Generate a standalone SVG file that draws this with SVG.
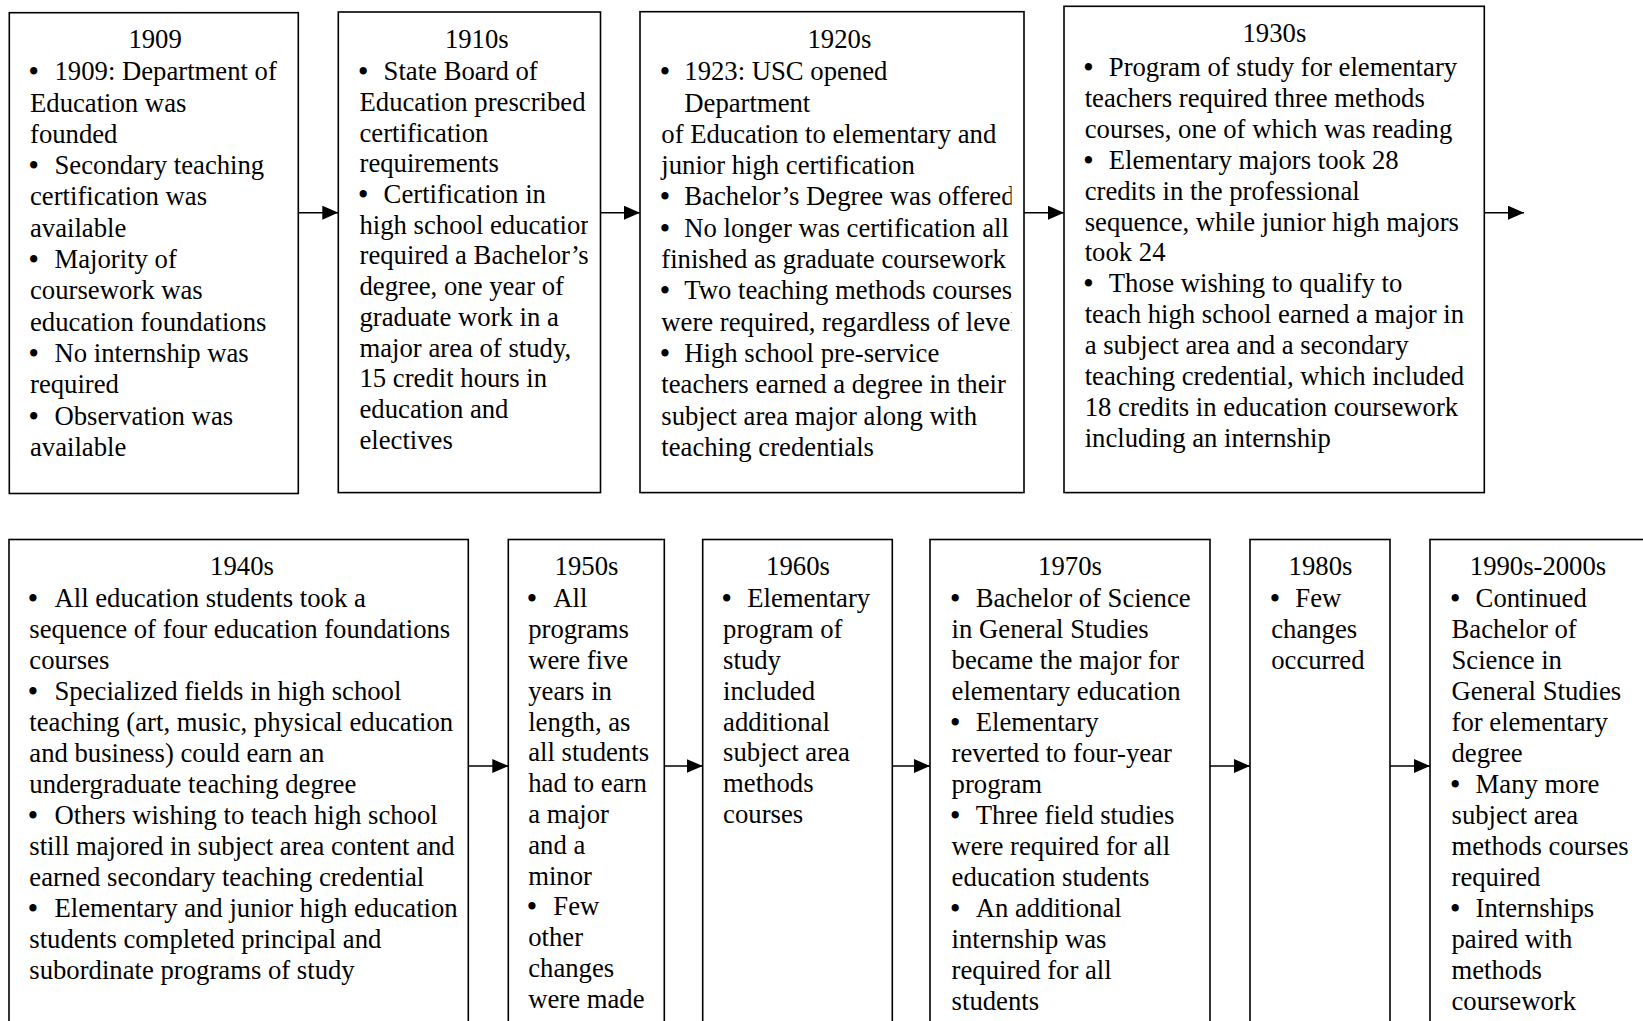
<svg xmlns="http://www.w3.org/2000/svg" width="1643" height="1021" viewBox="0 0 1643 1021">
<style>
.box{fill:#fff;stroke:#000;stroke-width:1.6}
.t{font-family:"Liberation Serif","Times New Roman",serif;font-size:26.7px;fill:#000}
.b{font-weight:bold}
.ttl{text-anchor:middle}
.conn line{stroke:#000;stroke-width:1.6;marker-end:url(#ah)}
</style>
<defs>
<marker id="ah" markerUnits="userSpaceOnUse" markerWidth="16" markerHeight="14" refX="16" refY="7" orient="auto">
<path d="M0,0 L16,7 L0,14 z" fill="#000"/>
</marker>
<clipPath id="c2"><rect x="338" y="0" width="250" height="500"/></clipPath>
<clipPath id="c3"><rect x="640" y="0" width="371.5" height="500"/></clipPath>
</defs>
<rect width="1643" height="1021" fill="#fff"/>

<g id="n1909">
<rect class="box" x="9.3" y="12.7" width="289" height="480.8"/>
<text class="t ttl" x="155.1" y="48.2">1909</text>
<text class="t">
<tspan class="b" x="29" y="80.2">•</tspan><tspan x="54.5" y="80.2">1909: Department of</tspan>
<tspan x="30" y="111.5">Education was</tspan>
<tspan x="30" y="142.8">founded</tspan>
<tspan class="b" x="29" y="174.1">•</tspan><tspan x="54.5" y="174.1">Secondary teaching</tspan>
<tspan x="30" y="205.4">certification was</tspan>
<tspan x="30" y="236.7">available</tspan>
<tspan class="b" x="29" y="268">•</tspan><tspan x="54.5" y="268">Majority of</tspan>
<tspan x="30" y="299.3">coursework was</tspan>
<tspan x="30" y="330.6">education foundations</tspan>
<tspan class="b" x="29" y="361.9">•</tspan><tspan x="54.5" y="361.9">No internship was</tspan>
<tspan x="30" y="393.2">required</tspan>
<tspan class="b" x="29" y="424.5">•</tspan><tspan x="54.5" y="424.5">Observation was</tspan>
<tspan x="30" y="455.8">available</tspan>
</text>
</g>

<g id="n1910s">
<rect class="box" x="338.3" y="12" width="262.2" height="480.6"/>
<text class="t ttl" x="476.8" y="48.2">1910s</text>
<text class="t" clip-path="url(#c2)">
<tspan class="b" x="358.5" y="80.2">•</tspan><tspan x="383.6" y="80.2">State Board of</tspan>
<tspan x="359.5" y="110.9">Education prescribed</tspan>
<tspan x="359.5" y="141.6">certification</tspan>
<tspan x="359.5" y="172.3">requirements</tspan>
<tspan class="b" x="358.5" y="203">•</tspan><tspan x="383.6" y="203">Certification in</tspan>
<tspan x="359.5" y="233.7">high school education</tspan>
<tspan x="359.5" y="264.4">required a Bachelor’s</tspan>
<tspan x="359.5" y="295.1">degree, one year of</tspan>
<tspan x="359.5" y="325.8">graduate work in a</tspan>
<tspan x="359.5" y="356.5">major area of study,</tspan>
<tspan x="359.5" y="387.2">15 credit hours in</tspan>
<tspan x="359.5" y="417.9">education and</tspan>
<tspan x="359.5" y="448.6">electives</tspan>
</text>
</g>

<g id="n1920s">
<rect class="box" x="640" y="11.7" width="384" height="480.9"/>
<text class="t ttl" x="839.4" y="48.2">1920s</text>
<text class="t" clip-path="url(#c3)">
<tspan class="b" x="660.3" y="80.2">•</tspan><tspan x="684.3" y="80.2">1923: USC opened</tspan>
<tspan x="684.3" y="111.5">Department</tspan>
<tspan x="661.3" y="142.8">of Education to elementary and</tspan>
<tspan x="661.3" y="174.1">junior high certification</tspan>
<tspan class="b" x="660.3" y="205.4">•</tspan><tspan x="684.3" y="205.4">Bachelor’s Degree was offered</tspan>
<tspan class="b" x="660.3" y="236.7">•</tspan><tspan x="684.3" y="236.7">No longer was certification all</tspan>
<tspan x="661.3" y="268">finished as graduate coursework</tspan>
<tspan class="b" x="660.3" y="299.3">•</tspan><tspan x="684.3" y="299.3">Two teaching methods courses</tspan>
<tspan x="661.3" y="330.6">were required, regardless of level</tspan>
<tspan class="b" x="660.3" y="361.9">•</tspan><tspan x="684.3" y="361.9">High school pre-service</tspan>
<tspan x="661.3" y="393.2">teachers earned a degree in their</tspan>
<tspan x="661.3" y="424.5">subject area major along with</tspan>
<tspan x="661.3" y="455.8">teaching credentials</tspan>
</text>
</g>

<g id="n1930s">
<rect class="box" x="1064" y="6.3" width="420.3" height="486.3"/>
<text class="t ttl" x="1274.4" y="42.4">1930s</text>
<text class="t">
<tspan class="b" x="1083.7" y="76">•</tspan><tspan x="1108.8" y="76">Program of study for elementary</tspan>
<tspan x="1084.7" y="106.9">teachers required three methods</tspan>
<tspan x="1084.7" y="137.8">courses, one of which was reading</tspan>
<tspan class="b" x="1083.7" y="168.7">•</tspan><tspan x="1108.8" y="168.7">Elementary majors took 28</tspan>
<tspan x="1084.7" y="199.6">credits in the professional</tspan>
<tspan x="1084.7" y="230.5">sequence, while junior high majors</tspan>
<tspan x="1084.7" y="261.4">took 24</tspan>
<tspan class="b" x="1083.7" y="292.3">•</tspan><tspan x="1108.8" y="292.3">Those wishing to qualify to</tspan>
<tspan x="1084.7" y="323.2">teach high school earned a major in</tspan>
<tspan x="1084.7" y="354.1">a subject area and a secondary</tspan>
<tspan x="1084.7" y="385">teaching credential, which included</tspan>
<tspan x="1084.7" y="415.9">18 credits in education coursework</tspan>
<tspan x="1084.7" y="446.8">including an internship</tspan>
</text>
</g>

<g id="n1940s">
<rect class="box" x="9" y="539.5" width="459.3" height="500"/>
<text class="t ttl" x="242" y="574.8">1940s</text>
<text class="t">
<tspan class="b" x="28.3" y="607.3">•</tspan><tspan x="54.5" y="607.3">All education students took a</tspan>
<tspan x="29.3" y="638.3">sequence of four education foundations</tspan>
<tspan x="29.3" y="669.3">courses</tspan>
<tspan class="b" x="28.3" y="700.3">•</tspan><tspan x="54.5" y="700.3">Specialized fields in high school</tspan>
<tspan x="29.3" y="731.3">teaching (art, music, physical education</tspan>
<tspan x="29.3" y="762.3">and business) could earn an</tspan>
<tspan x="29.3" y="793.3">undergraduate teaching degree</tspan>
<tspan class="b" x="28.3" y="824.3">•</tspan><tspan x="54.5" y="824.3">Others wishing to teach high school</tspan>
<tspan x="29.3" y="855.3">still majored in subject area content and</tspan>
<tspan x="29.3" y="886.3">earned secondary teaching credential</tspan>
<tspan class="b" x="28.3" y="917.3">•</tspan><tspan x="54.5" y="917.3">Elementary and junior high education</tspan>
<tspan x="29.3" y="948.3">students completed principal and</tspan>
<tspan x="29.3" y="979.3">subordinate programs of study</tspan>
</text>
</g>

<g id="n1950s">
<rect class="box" x="508.3" y="539.5" width="156" height="500"/>
<text class="t ttl" x="586.5" y="574.8">1950s</text>
<text class="t">
<tspan class="b" x="527.2" y="607.3">•</tspan><tspan x="553.3" y="607.3">All</tspan>
<tspan x="528.2" y="638.1">programs</tspan>
<tspan x="528.2" y="668.9">were five</tspan>
<tspan x="528.2" y="699.7">years in</tspan>
<tspan x="528.2" y="730.5">length, as</tspan>
<tspan x="528.2" y="761.3">all students</tspan>
<tspan x="528.2" y="792.1">had to earn</tspan>
<tspan x="528.2" y="822.9">a major</tspan>
<tspan x="528.2" y="853.7">and a</tspan>
<tspan x="528.2" y="884.5">minor</tspan>
<tspan class="b" x="527.2" y="915.3">•</tspan><tspan x="553.3" y="915.3">Few</tspan>
<tspan x="528.2" y="946.1">other</tspan>
<tspan x="528.2" y="976.9">changes</tspan>
<tspan x="528.2" y="1007.7">were made</tspan>
</text>
</g>

<g id="n1960s">
<rect class="box" x="702.7" y="539.5" width="189.6" height="500"/>
<text class="t ttl" x="798" y="574.8">1960s</text>
<text class="t">
<tspan class="b" x="722.1" y="607.3">•</tspan><tspan x="747.2" y="607.3">Elementary</tspan>
<tspan x="723.1" y="638.1">program of</tspan>
<tspan x="723.1" y="668.9">study</tspan>
<tspan x="723.1" y="699.7">included</tspan>
<tspan x="723.1" y="730.5">additional</tspan>
<tspan x="723.1" y="761.3">subject area</tspan>
<tspan x="723.1" y="792.1">methods</tspan>
<tspan x="723.1" y="822.9">courses</tspan>
</text>
</g>

<g id="n1970s">
<rect class="box" x="930" y="539.5" width="280" height="500"/>
<text class="t ttl" x="1070" y="574.8">1970s</text>
<text class="t">
<tspan class="b" x="950.6" y="607.3">•</tspan><tspan x="975.7" y="607.3">Bachelor of Science</tspan>
<tspan x="951.6" y="638.3">in General Studies</tspan>
<tspan x="951.6" y="669.3">became the major for</tspan>
<tspan x="951.6" y="700.3">elementary education</tspan>
<tspan class="b" x="950.6" y="731.3">•</tspan><tspan x="975.7" y="731.3">Elementary</tspan>
<tspan x="951.6" y="762.3">reverted to four-year</tspan>
<tspan x="951.6" y="793.3">program</tspan>
<tspan class="b" x="950.6" y="824.3">•</tspan><tspan x="975.7" y="824.3">Three field studies</tspan>
<tspan x="951.6" y="855.3">were required for all</tspan>
<tspan x="951.6" y="886.3">education students</tspan>
<tspan class="b" x="950.6" y="917.3">•</tspan><tspan x="975.7" y="917.3">An additional</tspan>
<tspan x="951.6" y="948.3">internship was</tspan>
<tspan x="951.6" y="979.3">required for all</tspan>
<tspan x="951.6" y="1010.3">students</tspan>
</text>
</g>

<g id="n1980s">
<rect class="box" x="1250" y="539.5" width="140" height="500"/>
<text class="t ttl" x="1320.5" y="574.8">1980s</text>
<text class="t">
<tspan class="b" x="1270.2" y="607.3">•</tspan><tspan x="1295.3" y="607.3">Few</tspan>
<tspan x="1271.2" y="638.3">changes</tspan>
<tspan x="1271.2" y="669.3">occurred</tspan>
</text>
</g>

<g id="n1990s">
<rect class="box" x="1430" y="539.5" width="230" height="500"/>
<text class="t ttl" x="1538" y="574.8">1990s-2000s</text>
<text class="t">
<tspan class="b" x="1450.5" y="607.3">•</tspan><tspan x="1475.6" y="607.3">Continued</tspan>
<tspan x="1451.5" y="638.3">Bachelor of</tspan>
<tspan x="1451.5" y="669.3">Science in</tspan>
<tspan x="1451.5" y="700.3">General Studies</tspan>
<tspan x="1451.5" y="731.3">for elementary</tspan>
<tspan x="1451.5" y="762.3">degree</tspan>
<tspan class="b" x="1450.5" y="793.3">•</tspan><tspan x="1475.6" y="793.3">Many more</tspan>
<tspan x="1451.5" y="824.3">subject area</tspan>
<tspan x="1451.5" y="855.3">methods courses</tspan>
<tspan x="1451.5" y="886.3">required</tspan>
<tspan class="b" x="1450.5" y="917.3">•</tspan><tspan x="1475.6" y="917.3">Internships</tspan>
<tspan x="1451.5" y="948.3">paired with</tspan>
<tspan x="1451.5" y="979.3">methods</tspan>
<tspan x="1451.5" y="1010.3">coursework</tspan>
</text>
</g>

<g id="connectors" class="conn">
<line x1="298.3" y1="212.7" x2="338.3" y2="212.7"/>
<line x1="600.5" y1="212.7" x2="640" y2="212.7"/>
<line x1="1024" y1="212.7" x2="1064" y2="212.7"/>
<line x1="1484.3" y1="212.7" x2="1524" y2="212.7"/>
<line x1="468.3" y1="766" x2="508.3" y2="766"/>
<line x1="664.3" y1="766" x2="702.7" y2="766"/>
<line x1="892.3" y1="766" x2="930" y2="766"/>
<line x1="1210" y1="766" x2="1250" y2="766"/>
<line x1="1390" y1="766" x2="1430" y2="766"/>
</g>
</svg>
